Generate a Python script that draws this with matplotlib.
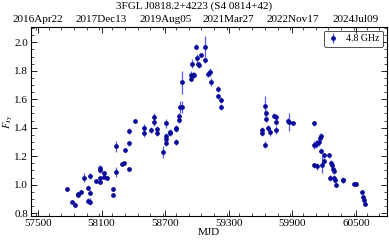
import numpy as np
import matplotlib.pyplot as plt
from matplotlib.ticker import MultipleLocator, FixedLocator
from datetime import datetime, timedelta

plt.rcParams['font.family'] = ['Liberation Serif', 'DejaVu Serif']
plt.rcParams['mathtext.fontset'] = 'stix'
plt.rcParams['font.size'] = 8

# MJD, flux density (Jy), error (Jy)
mjd = [57777, 57817, 57848, 57873, 57876, 57901, 57936, 57967, 57967, 57992,
       57992, 57992, 58050, 58085, 58085, 58085, 58085, 58119, 58119, 58147,
       58203, 58203, 58231, 58231, 58296, 58315, 58324, 58356, 58356, 58356,
       58414, 58501, 58501, 58566, 58594, 58594, 58622, 58622, 58682, 58706,
       58706, 58706, 58706, 58744, 58744, 58803, 58803, 58803, 58828, 58834,
       58844, 58856, 58856, 58944, 58946, 58960, 58974, 58949, 58990, 58996,
       59005, 59018, 59035, 59077, 59077, 59102, 59126, 59130, 59198, 59198,
       59223, 59223, 59612, 59612, 59640, 59640, 59649, 59649, 59665, 59686,
       59728, 59745, 59747, 59747, 59859, 59864, 59901, 60107, 60104, 60122,
       60134, 60147, 60162, 60166, 60173, 60100, 60131, 60177, 60200, 60200,
       60249, 60261, 60271, 60280, 60289, 60255, 60293, 60302, 60311, 60380,
       60380, 60479, 60504, 60558, 60570, 60579, 60585]
flux = [0.97, 0.88, 0.86, 0.925, 0.935, 0.95, 1.05, 0.98, 0.885, 1.06,
        0.945, 0.88, 1.025, 1.12, 1.10, 1.045, 1.02, 1.08, 1.055, 1.045,
        0.97, 0.925, 1.27, 1.09, 1.145, 1.15, 1.245, 1.29, 1.375, 1.11,
        1.45, 1.40, 1.36, 1.385, 1.475, 1.44, 1.39, 1.36, 1.23, 1.43,
        1.34, 1.32, 1.29, 1.37, 1.36, 1.40, 1.39, 1.30, 1.455, 1.48,
        1.545, 1.545, 1.72, 1.745, 1.77, 1.77, 1.77, 1.85, 1.97, 1.89,
        1.845, 1.84, 1.91, 1.97, 1.875, 1.775, 1.79, 1.72, 1.67, 1.62,
        1.595, 1.545, 1.385, 1.36, 1.55, 1.28, 1.50, 1.46, 1.40, 1.37,
        1.485, 1.475, 1.44, 1.385, 1.45, 1.44, 1.435, 1.43, 1.28, 1.285,
        1.29, 1.30, 1.33, 1.345, 1.24, 1.135, 1.13, 1.14, 1.205, 1.165,
        1.205, 1.15, 1.135, 1.11, 1.095, 1.045, 1.05, 1.03, 1.0, 1.035,
        1.03, 1.005, 1.005, 0.95, 0.91, 0.895, 0.865]
err = [0.012, 0.010, 0.015, 0.015, 0.012, 0.012, 0.030, 0.020, 0.020, 0.020,
       0.020, 0.025, 0.012, 0.015, 0.015, 0.015, 0.015, 0.015, 0.015, 0.015,
       0.015, 0.015, 0.040, 0.035, 0.012, 0.012, 0.015, 0.015, 0.020, 0.015,
       0.012, 0.025, 0.025, 0.020, 0.030, 0.025, 0.020, 0.020, 0.040, 0.030,
       0.020, 0.020, 0.020, 0.020, 0.020, 0.020, 0.020, 0.020, 0.020, 0.025,
       0.040, 0.040, 0.080, 0.020, 0.025, 0.020, 0.020, 0.030, 0.020, 0.030,
       0.020, 0.020, 0.015, 0.075, 0.020, 0.020, 0.030, 0.030, 0.020, 0.020,
       0.020, 0.020, 0.020, 0.020, 0.070, 0.025, 0.025, 0.020, 0.020, 0.030,
       0.020, 0.020, 0.020, 0.030, 0.020, 0.060, 0.015, 0.015, 0.030, 0.030,
       0.025, 0.025, 0.025, 0.020, 0.020, 0.020, 0.025, 0.060, 0.020, 0.020,
       0.020, 0.020, 0.020, 0.020, 0.020, 0.020, 0.020, 0.015, 0.015, 0.020,
       0.020, 0.012, 0.012, 0.015, 0.015, 0.015, 0.015]

major_mjd = [57500, 58100, 58700, 59300, 59900, 60500]

fig = plt.figure(figsize=(3.89, 2.40), dpi=100)
ax = fig.add_axes([0.080, 0.100, 0.914, 0.789])

ax.errorbar(mjd, flux, yerr=err, fmt='o', color='#0a0a9a', ms=2.4,
            ecolor='#5a5aff', elinewidth=0.9, capsize=0, label='4.8 GHz')

ax.set_xlim(57435, 60789)
ax.set_ylim(0.78, 2.11)
ax.xaxis.set_major_locator(FixedLocator(major_mjd))
ax.xaxis.set_minor_locator(MultipleLocator(120))
ax.yaxis.set_major_locator(MultipleLocator(0.2))
ax.yaxis.set_minor_locator(MultipleLocator(0.05))
ax.tick_params(which='both', direction='in', right=True, top=False, labelsize=8, pad=2)
ax.tick_params(which='major', length=4, width=0.6)
ax.tick_params(which='minor', length=2, width=0.5)
for s in ax.spines.values():
    s.set_linewidth(0.6)

ax.set_xlabel('MJD', labelpad=0)
ax.set_ylabel(r'$F_{\mathrm{Jy}}$', fontsize=7.5)
ax.yaxis.set_label_coords(-0.046, 0.5)

# top axis with calendar dates
def mjd_to_date(m):
    d = datetime(1858, 11, 17) + timedelta(days=m)
    return d.strftime('%Y%b%d')

top = ax.twiny()
top.set_xlim(ax.get_xlim())
top.xaxis.set_major_locator(FixedLocator(major_mjd))
top.xaxis.set_minor_locator(MultipleLocator(120))
top.set_xticklabels([mjd_to_date(m) for m in major_mjd])
top.tick_params(which='both', direction='in', labelsize=8, pad=2)
top.tick_params(which='major', length=4, width=0.6)
top.tick_params(which='minor', length=2, width=0.5)

fig.suptitle('3FGL J0818.2+4223 (S4 0814+42)', fontsize=8, y=0.995)

leg = ax.legend(loc='upper right', fontsize=7, frameon=True, fancybox=True,
                handlelength=1.0, borderpad=0.4, borderaxespad=0.4)
leg.get_frame().set_edgecolor('black')
leg.get_frame().set_linewidth(0.6)

fig.savefig('out.png', dpi=100)
